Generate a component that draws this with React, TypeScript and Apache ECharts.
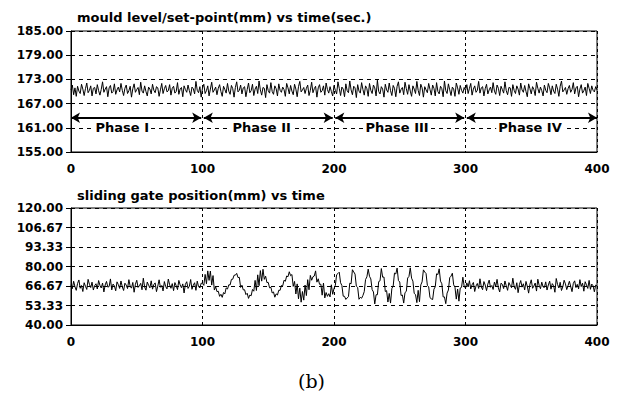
import React, { useEffect, useRef } from "react";
import * as echarts from "echarts";

// time axis: one sample every second, 0..400 s
const timeSec: number[] = Array.from({ length: 401 }, (_, i) => i);

const mouldLevel: number[] = [
  // Phase I
  170.4,171.6,169.2,170.9,168.8,171.3,170.1,169.5,171.8,170.6,169.0,170.7,172.1,169.7,170.3,171.4,168.9,170.8,171.0,169.4,
  171.7,170.2,169.1,170.5,172.4,169.8,170.6,171.2,168.7,170.9,171.5,169.6,170.0,171.9,169.3,170.4,171.1,169.9,172.0,170.3,
  169.0,170.8,171.6,169.5,170.2,171.3,168.6,170.7,171.9,169.8,170.5,171.0,169.2,172.3,170.1,169.6,171.4,170.0,168.9,171.1,
  170.6,169.4,171.8,170.3,169.7,171.2,170.9,168.8,170.4,172.0,169.5,170.7,171.5,169.9,170.2,171.7,169.1,170.8,171.3,169.6,
  170.0,172.2,169.3,170.6,171.0,168.7,171.4,170.5,169.8,171.6,170.2,169.0,171.1,170.7,169.4,172.5,170.3,169.7,171.2,168.6,
  // Phase II
  170.9,171.8,169.5,170.2,171.4,168.9,170.6,172.3,169.8,170.4,171.1,169.2,170.8,171.7,170.0,168.8,171.3,170.5,169.6,172.0,
  170.1,169.3,171.5,170.7,168.6,171.0,172.4,169.9,170.3,171.6,169.4,170.9,171.2,168.7,170.5,172.1,169.7,170.2,171.8,169.0,
  170.6,171.3,169.5,172.6,170.4,169.1,171.0,170.8,168.5,171.7,170.2,169.6,172.2,170.0,169.3,171.4,170.7,168.9,171.9,170.3,
  169.8,171.1,170.5,168.8,172.0,170.9,169.4,171.5,170.1,169.2,171.8,170.6,168.7,171.2,172.5,169.9,170.4,171.0,169.5,170.8,
  171.6,169.0,170.3,172.3,169.7,170.7,171.3,168.6,170.9,171.7,169.8,170.2,171.4,169.1,172.1,170.5,169.6,171.2,170.0,168.9,
  // Phase III
  171.5,170.3,169.4,172.4,170.8,169.0,171.1,170.6,168.7,171.9,170.2,169.7,172.6,170.4,169.2,171.3,170.9,168.5,171.7,170.1,
  169.6,172.2,170.5,169.1,171.4,170.7,168.8,172.0,170.3,169.5,171.6,170.9,168.9,172.8,170.0,169.4,171.2,170.6,168.6,171.8,
  170.4,169.8,172.1,170.2,169.0,171.5,170.8,168.7,171.3,172.4,169.6,170.5,171.0,169.2,172.3,170.7,169.3,171.7,170.1,168.8,
  171.4,170.6,169.5,172.5,170.3,169.0,171.8,170.9,168.6,171.2,170.4,169.7,172.0,170.5,169.1,171.6,170.8,168.9,172.2,170.0,
  169.4,171.3,170.7,168.7,172.6,170.2,169.5,171.9,170.4,169.0,171.1,170.6,168.8,172.1,170.9,169.3,171.5,170.3,169.6,171.0,
  // Phase IV
  170.2,171.7,169.5,170.8,172.0,169.1,170.6,171.4,169.8,170.3,172.5,169.6,170.9,171.2,168.9,170.7,171.8,169.4,170.4,171.1,
  169.7,172.2,170.1,169.3,171.6,170.8,169.0,171.3,170.5,169.6,172.4,170.2,169.2,171.0,170.9,168.8,171.7,170.3,169.5,171.4,
  170.6,169.1,172.1,170.4,169.8,171.5,170.0,168.7,171.9,170.7,169.4,171.2,170.5,169.0,172.3,170.8,169.6,171.1,170.2,168.9,
  171.6,170.3,169.7,172.0,170.9,169.2,171.4,170.1,169.5,171.8,170.6,168.8,171.3,172.6,169.9,170.4,171.0,169.3,170.7,171.5,
  169.8,170.5,172.2,169.4,170.9,171.3,168.7,170.6,171.7,169.6,170.2,171.1,169.0,172.0,170.8,169.5,171.4,170.3,169.9,171.2,
  170.4,
];

const gatePosition: number[] = [
  // Phase I
  67.5,64.8,69.9,66.2,63.7,68.4,70.8,65.1,67.0,62.9,68.9,66.5,64.3,71.2,67.8,65.6,69.3,63.9,66.9,68.2,
  64.6,70.4,67.1,65.3,68.7,62.6,67.4,69.8,65.9,66.3,71.5,64.0,68.0,66.7,63.4,69.5,67.6,65.0,70.1,66.1,
  63.6,68.6,67.3,64.9,71.0,66.4,65.2,69.1,62.4,67.9,70.6,65.7,66.8,68.5,64.1,72.0,66.0,63.8,69.4,67.2,
  65.4,70.2,64.5,67.7,68.8,62.8,66.6,70.9,65.8,67.0,63.3,69.7,66.3,64.7,71.4,67.5,65.1,68.3,63.5,69.0,
  66.9,64.2,70.5,67.4,65.5,68.1,61.9,67.8,69.6,65.0,66.5,71.1,64.4,67.2,68.9,63.7,70.0,66.2,65.3,68.6,
  // Phase II
  68.4,67.1,74.6,68.2,77.0,70.5,76.9,67.3,73.8,63.9,66.2,62.8,63.1,59.6,61.0,58.9,62.2,61.3,65.4,64.6,
  67.5,67.4,71.2,71.3,74.0,74.1,75.3,72.4,72.6,65.7,67.2,64.0,64.1,60.8,61.7,58.2,60.5,60.0,64.3,63.1,
  70.5,63.6,74.3,66.9,77.2,70.0,78.1,71.2,73.4,69.0,69.1,65.4,65.8,61.9,62.6,59.0,61.3,60.5,63.8,63.7,
  67.0,66.8,70.6,69.9,73.5,73.0,76.4,73.7,74.5,66.4,69.8,61.2,68.1,57.9,65.2,55.6,62.9,57.0,67.3,60.1,
  71.0,64.1,73.9,70.6,73.0,73.5,77.0,69.3,71.6,67.8,67.9,60.4,68.7,58.5,62.2,59.6,61.4,59.2,67.5,61.0,
  // Phase III
  65.0,67.1,74.4,75.2,76.1,68.9,67.0,59.7,59.6,57.5,58.5,59.4,68.6,68.2,77.8,76.3,74.8,66.5,65.7,57.6,
  58.9,58.3,60.2,62.8,71.1,72.9,78.2,73.3,71.5,64.2,62.6,54.4,60.7,60.7,69.7,70.2,78.6,72.7,72.8,62.9,
  63.5,55.7,61.6,55.0,65.0,66.6,75.5,74.9,78.9,70.4,69.4,60.2,60.5,55.0,62.2,63.0,72.1,73.2,79.1,72.0,
  70.0,61.6,60.8,55.3,63.7,55.9,67.4,69.5,77.7,76.2,75.2,67.1,66.1,58.7,57.9,57.4,64.5,66.1,75.0,74.5,
  78.4,70.0,68.2,59.2,59.2,54.6,61.8,63.9,72.4,73.4,75.4,67.5,65.8,57.7,64.6,56.3,65.3,65.8,72.7,66.4,
  // Phase IV
  65.2,68.8,66.0,70.3,64.6,67.5,69.1,62.9,66.7,68.4,65.0,71.6,66.2,64.1,69.7,67.3,63.5,68.0,70.7,65.8,
  67.0,64.3,69.4,66.5,71.2,65.4,62.6,68.6,67.8,64.9,70.1,66.8,63.7,69.0,67.1,65.5,72.0,66.3,64.4,68.9,
  62.1,67.6,70.4,65.9,68.2,64.0,69.8,66.4,61.8,67.9,70.9,65.1,66.6,68.7,63.2,71.3,67.2,64.8,69.3,66.0,
  65.7,69.5,63.9,67.4,70.0,64.5,68.3,66.9,62.4,71.8,67.7,65.3,69.2,63.6,66.1,70.6,68.1,64.2,67.0,69.9,
  66.4,62.8,68.5,70.2,65.6,67.8,64.7,71.0,66.3,68.6,63.1,69.6,67.5,65.0,70.5,64.4,68.0,66.8,62.7,67.3,
  66.6,
];

const phaseNames: string[] = ["Phase I", "Phase II", "Phase III", "Phase IV"];
const phaseStart: number[] = [0, 101, 201, 301];
const phaseEnd: number[] = [99, 199, 299, 400];
const phaseLabelX: number[] = [39, 145, 248, 349];
const phaseArrowY = 163.5;
const phaseLabelY = 161;

const titleTop = "mould level/set-point(mm) vs time(sec.)";
const titleBottom = "sliding gate position(mm) vs time";
const caption = "(b)";

const FONT = "DejaVu Sans";

export default function App() {
  const ref = useRef<HTMLDivElement>(null);
  useEffect(() => {
    if (!ref.current) return;
    const chart = echarts.init(ref.current, null, { renderer: "svg" });
    const labelStyle = {
      color: "#000",
      fontFamily: FONT,
      fontWeight: "bold" as const,
      fontSize: 12,
    };
    const xAxisBase = (gridIndex: number) => ({
      type: "value" as const,
      gridIndex,
      min: 0,
      max: 400,
      interval: 100,
      axisLine: { show: true, lineStyle: { color: "#000", width: 1 } },
      axisTick: { show: false },
      axisLabel: { ...labelStyle, margin: 11 },
      splitLine: { show: true, lineStyle: { color: "#000", type: [3, 3], width: 1 } },
    });
    const yAxisBase = (gridIndex: number, min: number, max: number, interval: number) => ({
      type: "value" as const,
      gridIndex,
      min,
      max,
      interval,
      axisLine: { show: true, lineStyle: { color: "#000", width: 1 } },
      axisTick: { show: true, length: 5, lineStyle: { color: "#000" } },
      axisLabel: {
        ...labelStyle,
        margin: 8,
        showMinLabel: true,
        showMaxLabel: true,
        formatter: (v: number) => v.toFixed(2),
      },
      splitLine: { show: true, lineStyle: { color: "#000", type: [4, 4], width: 1 } },
    });

    const mouldData = timeSec.map((t, i) => [t, mouldLevel[i]]);
    const gateData = timeSec.map((t, i) => [t, gatePosition[i]]);

    chart.setOption({
      animation: false,
      backgroundColor: "#fff",
      title: [
        {
          text: titleTop,
          left: 77,
          top: 11,
          padding: 0,
          textStyle: { color: "#000", fontFamily: FONT, fontWeight: "bold", fontSize: 13 },
        },
        {
          text: titleBottom,
          left: 77,
          top: 189,
          padding: 0,
          textStyle: { color: "#000", fontFamily: FONT, fontWeight: "bold", fontSize: 13 },
        },
      ],
      grid: [
        { left: 71, top: 31, width: 526, height: 121, show: true, borderColor: "#000", borderWidth: 1 },
        { left: 71, top: 208, width: 526, height: 117, show: true, borderColor: "#000", borderWidth: 1 },
      ],
      xAxis: [xAxisBase(0), xAxisBase(1)],
      yAxis: [yAxisBase(0, 155, 185, 6), yAxisBase(1, 40, 120, 80 / 6)],
      series: [
        {
          type: "line",
          xAxisIndex: 0,
          yAxisIndex: 0,
          data: mouldData,
          showSymbol: false,
          symbol: "none",
          lineStyle: { color: "#000", width: 1 },
          markLine: {
            silent: true,
            symbol: ["arrow", "arrow"],
            symbolSize: [8, 9],
            lineStyle: { color: "#000", width: 2, type: "solid" },
            label: { show: false },
            data: phaseNames.map((_, i) => [
              { coord: [phaseStart[i], phaseArrowY] },
              { coord: [phaseEnd[i], phaseArrowY] },
            ]),
          },
          markPoint: {
            silent: true,
            symbol: "circle",
            symbolSize: 1,
            itemStyle: { color: "rgba(0,0,0,0)" },
            label: {
              show: true,
              position: "inside",
              formatter: "{b}",
              color: "#000",
              fontFamily: FONT,
              fontWeight: "bold",
              fontSize: 13,
              backgroundColor: "#fff",
              padding: [0, 2],
            },
            data: phaseNames.map((n, i) => ({ name: n, coord: [phaseLabelX[i], phaseLabelY] })),
          },
        },
        {
          type: "line",
          xAxisIndex: 1,
          yAxisIndex: 1,
          data: gateData,
          showSymbol: false,
          symbol: "none",
          lineStyle: { color: "#000", width: 1 },
        },
      ],
      graphic: [
        {
          type: "text",
          left: 298,
          top: 371,
          style: { text: caption, font: '19px "DejaVu Serif"', fill: "#000" },
        },
      ],
    });
    return () => chart.dispose();
  }, []);
  return (
    <div
      ref={ref}
      style={{ position: "fixed", left: 0, top: 0, width: 624, height: 394, background: "#fff" }}
    />
  );
}
